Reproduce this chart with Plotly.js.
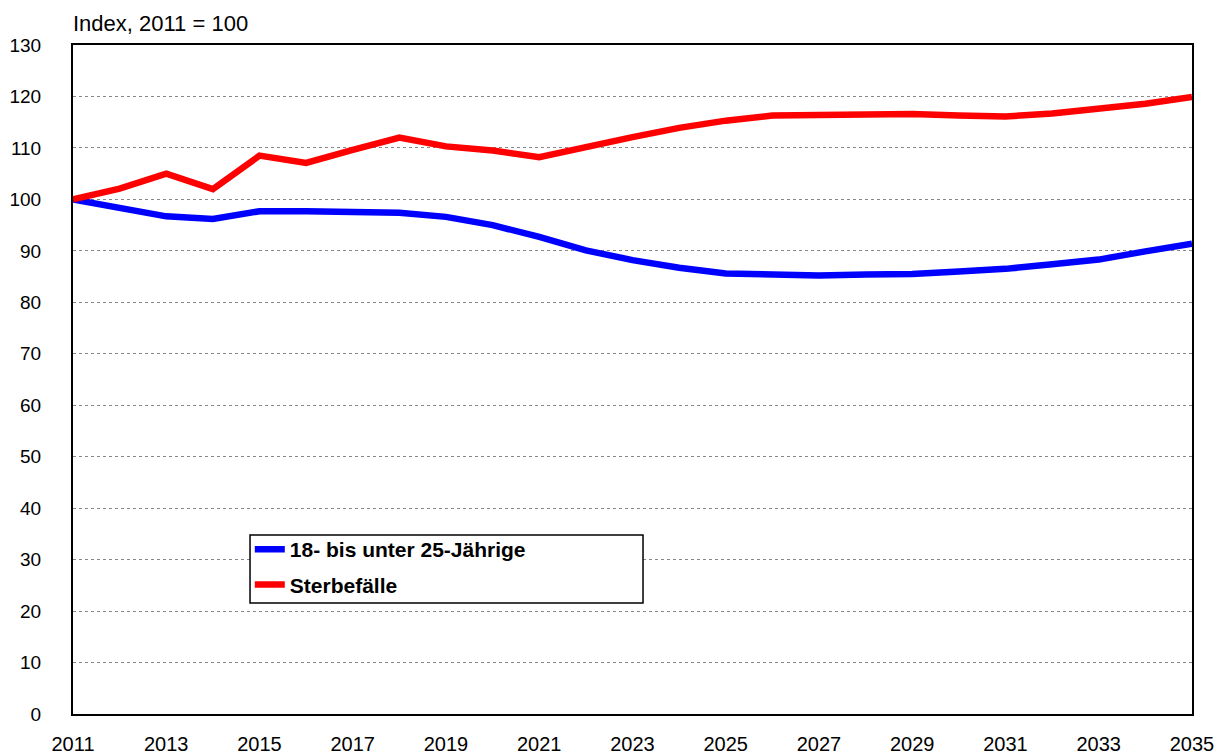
<!DOCTYPE html>
<html><head><meta charset="utf-8">
<script src="https://cdn.plot.ly/plotly-3.0.1.min.js"></script>
<style>html,body{margin:0;padding:0;background:#fff}</style>
</head><body>
<div id="chart" style="width:1216px;height:755px"></div>
<script>
const years = [2011,2012,2013,2014,2015,2016,2017,2018,2019,2020,2021,2022,2023,2024,2025,2026,2027,2028,2029,2030,2031,2032,2033,2034,2035];
const youngAdults = [100,98.4,96.7,96.2,97.7,97.7,97.6,97.4,96.6,95.0,92.7,90.1,88.2,86.7,85.6,85.3,85.2,85.4,85.5,86.0,86.5,87.4,88.3,89.9,91.4];
const deaths = [100,102.1,105.0,102.0,108.5,107.1,109.6,112.0,110.3,109.5,108.2,110.3,112.1,113.9,115.3,116.3,116.5,116.4,116.6,116.3,116.1,116.7,117.5,118.6,119.9];
const seriesNames = ['18- bis unter 25-Jährige','Sterbefälle'];
const xTicks = [2011,2013,2015,2017,2019,2021,2023,2025,2027,2029,2031,2033,2035];
const yTicks = [0,10,20,30,40,50,60,70,80,90,100,110,120,130];

const font = 'Liberation Sans, Arial, sans-serif';
const traces = [
  {x: years, y: youngAdults, name: seriesNames[0], legendgroup:'a', mode:'lines', line:{color:'#0000ff', width:6.5}},
  {x: years, y: deaths, name: seriesNames[1], legendgroup:'b', mode:'lines', line:{color:'#ff0000', width:6.5}}
];
const layout = {
  width:1216, height:755,
  margin:{l:73, r:24, t:45, b:41},
  paper_bgcolor:'#fff', plot_bgcolor:'#fff',
  showlegend:true,
  legend:{x:0.158, y:0.2765, xanchor:'left', yanchor:'top', borderwidth:0,
    bgcolor:'rgba(0,0,0,0)', font:{family:font, size:21, color:'#000', weight:'bold'}, itemwidth:30,
    traceorder:'grouped', tracegroupgap:5},
  shapes:[{type:'rect', xref:'paper', yref:'paper', x0:0.1582, x1:0.5094, y0:0.1659, y1:0.2676,
    line:{color:'#000', width:1.5}, fillcolor:'#fff', layer:'above'}],
  xaxis:{range:[2011,2035], tickvals:xTicks, ticktext:xTicks.map(String), showgrid:false, zeroline:false,
    showline:true, linecolor:'#000', linewidth:2, mirror:true, ticks:'', ticklabelstandoff:11,
    tickfont:{family:font, size:20, color:'#000'}},
  yaxis:{range:[0,130], tickvals:yTicks, showgrid:true, gridcolor:'#888', griddash:'dot', gridwidth:1,
    zeroline:false, showline:true, linecolor:'#000', linewidth:2, mirror:true, ticks:'', ticklabelstandoff:26,
    tickfont:{family:font, size:19, color:'#000'}},
  annotations:[{text:'Index, 2011 = 100', xref:'paper', yref:'paper', x:0, y:1, xanchor:'left', yanchor:'bottom',
    yshift:7, xshift:-2, showarrow:false, font:{family:font, size:22, color:'#000'}}]
};
Plotly.newPlot('chart', traces, layout, {displayModeBar:false, staticPlot:true});
</script>
</body></html>
